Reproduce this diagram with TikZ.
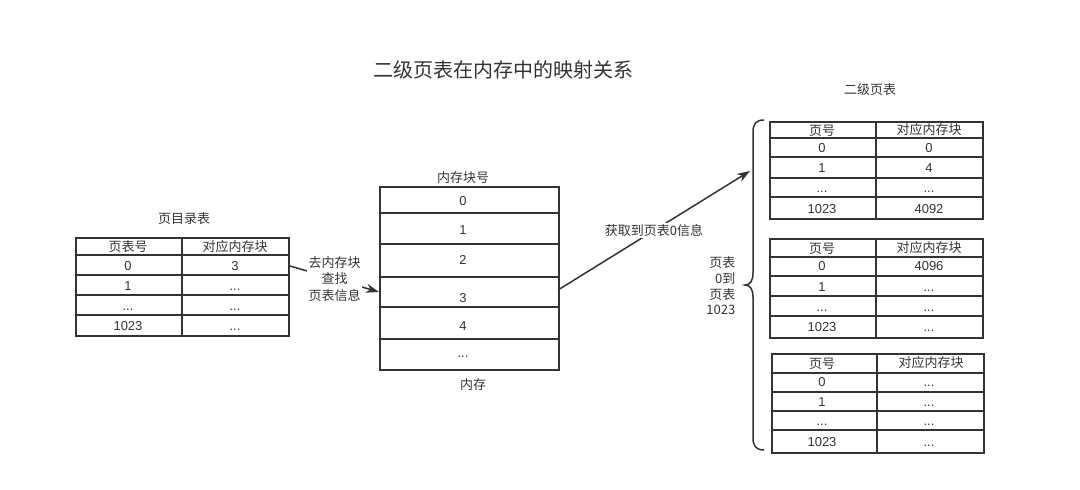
\documentclass[tikz,border=0pt]{standalone}
\usepackage{fontspec}
\setmainfont{Liberation Sans}
\newfontfamily\cjk{Noto Sans CJK SC}
\usetikzlibrary{arrows.meta}
\definecolor{lc}{HTML}{333333}
\definecolor{tc}{HTML}{333333}
\tikzset{
  tbl/.style={draw=lc, line width=1.5pt},
  tline/.style={draw=lc, line width=1.5pt},
  txt/.style={text=tc, inner sep=0pt, text height=9.5pt, text depth=3pt, yshift=-1.5pt, font=\fontsize{13}{16}\selectfont},
  ctxt/.style={text=tc, inner sep=0pt, text height=9.5pt, text depth=3pt, yshift=-1.5pt, font=\fontsize{13}{16}\selectfont\cjk},
  arr/.style={draw=lc, line width=1.5pt, -{Stealth[length=13pt,width=9pt]}},
  lbl/.style={fill=white, text=tc, inner sep=1.5pt, font=\fontsize{13}{16.5}\selectfont\cjk},
}
\begin{document}
\begin{tikzpicture}[x=1pt,y=-1pt]
\useasboundingbox (0,0) rectangle (1080,490);

% title
\node[text=tc, inner sep=0pt, font=\fontsize{20}{24}\selectfont\cjk] (title) at (503,70) {二级页表在内存中的映射关系};

% ---------- page directory table ----------
\node[ctxt] (pdt) at (184,219) {页目录表};
\node[tbl, minimum width=213pt, minimum height=98pt, anchor=north west] (pd) at (75,237) {};
\draw[tline] (182,237) -- (182,335);
\foreach \y in {255,275,295,315} \draw[tline] (75,\y) -- (288,\y);
\node[ctxt] (pdh1) at (128,247) {页表号};
\node[ctxt] (pdh2) at (235,247) {对应内存块};
\node[txt] (pd01) at (128,266) {0};
\node[txt] (pd02) at (235,266) {3};
\node[txt] (pd11) at (128,286) {1};
\node[txt] (pd12) at (235,286) {...};
\node[txt] (pd21) at (128,306) {...};
\node[txt] (pd22) at (235,306) {...};
\node[txt] (pd31) at (128,326) {1023};
\node[txt] (pd32) at (235,326) {...};

% ---------- memory ----------
\node[ctxt] (memt) at (463,178) {内存块号};
\node[tbl, minimum width=179pt, minimum height=183pt, anchor=north west] (mem) at (379,186) {};
\foreach \y in {213,244,277,307,339} \draw[tline] (379,\y) -- (558,\y);
\node[txt] (m0) at (463,201) {0};
\node[txt] (m1) at (463,230) {1};
\node[txt] (m2) at (463,260) {2};
\node[txt] (m3) at (463,298) {3};
\node[txt] (m4) at (463,326) {4};
\node[txt] (m5) at (463,353) {...};
\node[ctxt] (meml) at (473,385) {内存};

% ---------- second level tables ----------
\node[ctxt] (slt) at (870,90) {二级页表};

% table 1
\node[tbl, minimum width=213pt, minimum height=97pt, anchor=north west] (t1) at (769,121) {};
\draw[tline] (876,121) -- (876,218);
\foreach \y in {138,157,178,197} \draw[tline] (769,\y) -- (982,\y);
\node[ctxt] (t1h1) at (822,131) {页号};
\node[ctxt] (t1h2) at (929,130) {对应内存块};
\node[txt] (t1a) at (822,148) {0};
\node[txt] (t1b) at (929,148) {0};
\node[txt] (t1c) at (822,168) {1};
\node[txt] (t1d) at (929,168) {4};
\node[txt] (t1e) at (822,188) {...};
\node[txt] (t1f) at (929,188) {...};
\node[txt] (t1g) at (822,209) {1023};
\node[txt] (t1h) at (929,209) {4092};

% table 2
\node[tbl, minimum width=213pt, minimum height=99pt, anchor=north west] (t2) at (769,238) {};
\draw[tline] (876,238) -- (876,337);
\foreach \y in {257,276,296,316} \draw[tline] (769,\y) -- (982,\y);
\node[ctxt] (t2h1) at (822,249) {页号};
\node[ctxt] (t2h2) at (929,248) {对应内存块};
\node[txt] (t2a) at (822,266) {0};
\node[txt] (t2b) at (929,266) {4096};
\node[txt] (t2c) at (822,287) {1};
\node[txt] (t2d) at (929,287) {...};
\node[txt] (t2e) at (822,307) {...};
\node[txt] (t2f) at (929,307) {...};
\node[txt] (t2g) at (822,327) {1023};
\node[txt] (t2h) at (929,327) {...};

% table 3
\node[tbl, minimum width=212pt, minimum height=99pt, anchor=north west] (t3) at (771,353) {};
\draw[tline] (877,353) -- (877,452);
\foreach \y in {373,392,411,430} \draw[tline] (771,\y) -- (983,\y);
\node[ctxt] (t3h1) at (822,364) {页号};
\node[ctxt] (t3h2) at (931,363) {对应内存块};
\node[txt] (t3a) at (822,382) {0};
\node[txt] (t3b) at (929,382) {...};
\node[txt] (t3c) at (822,402) {1};
\node[txt] (t3d) at (929,402) {...};
\node[txt] (t3e) at (822,421) {...};
\node[txt] (t3f) at (929,421) {...};
\node[txt] (t3g) at (822,442) {1023};
\node[txt] (t3h) at (929,442) {...};

% brace
\draw[draw=lc, line width=1.5pt] (764,120) .. controls (756,120) and (753,124) .. (753,132) -- (753,273) .. controls (753,281) and (750,285) .. (745,285) .. controls (750,285) and (753,289) .. (753,297) -- (753,438) .. controls (753,446) and (756,450) .. (764,450);
\node[lbl, fill=none, align=right, anchor=east, font=\fontsize{13}{15.6}\selectfont\cjk] (brl) at (737,286) {页表\\0到\\页表\\1023};

% connectors
\coordinate (a1s) at (290,266);
\coordinate (a1e) at (379,292);
\draw[arr] (a1s) -- node[lbl, align=center] (l1) {去内存块\\查找\\页表信息} (a1e);

\coordinate (a2s) at (558,290);
\coordinate (a2e) at (750,171);
\draw[arr] (a2s) -- node[lbl] (l2) {获取到页表0信息} (a2e);
\end{tikzpicture}
\end{document}
